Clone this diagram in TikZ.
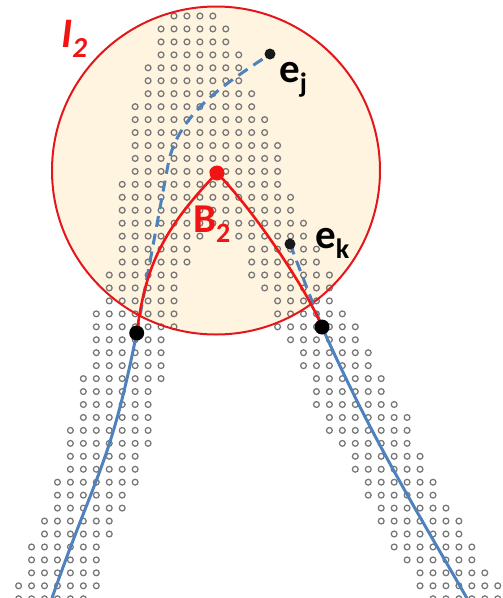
\documentclass[tikz,border=0pt]{standalone}
\usepackage{fontspec}
\setmainfont{Carlito}
\definecolor{cream}{HTML}{FEF4DF}
\definecolor{ringred}{HTML}{E3161C}
\definecolor{curvered}{HTML}{F01414}
\definecolor{lblue}{HTML}{4F81BD}
\definecolor{dotgray}{HTML}{767676}
\begin{document}
\begin{tikzpicture}[x=1pt,y=-1pt,
  gdot/.style={draw=dotgray, line width=1.25pt},
  blueline/.style={draw=lblue, line width=3pt},
  bluedash/.style={blueline, dash pattern=on 11pt off 7pt},
  redcurve/.style={draw=curvered, line width=2.6pt},
  bigdot/.style={circle, fill=black, inner sep=0pt, minimum size=15pt},
  smalldot/.style={circle, fill=black!90, inner sep=0pt, minimum size=11pt},
  reddot/.style={circle, fill=curvered, inner sep=0pt, minimum size=15pt},
  lab/.style={anchor=base west, inner sep=0pt, font=\fontsize{41}{41}\selectfont\bfseries}]
\useasboundingbox (0,0) rectangle (503,598);
% ring fill
\fill[cream] (216,170.5) circle[radius=164];
% dot grid
\foreach \r/\a/\b in {0/0/3, 1/-1/4, 2/-1/4, 3/-1/5, 4/-2/5, 5/-2/5, 6/-2/6, 7/-3/6,
  8/-3/7, 9/-3/7, 10/-3/8, 11/-3/8, 12/-3/8, 13/-4/8, 14/-4/9, 15/-4/9, 16/-4/10,
  17/-4/2, 17/5/10, 18/-4/1, 18/6/11, 19/-4/1, 19/6/11, 20/-5/0, 20/6/12,
  21/-5/0, 21/7/12, 22/-5/0, 22/8/12, 23/-6/0, 23/8/13, 24/-6/0, 24/8/14,
  25/-6/-1, 25/9/14, 26/-6/-1, 26/10/15, 27/-6/-1, 27/10/15, 28/-7/-1, 28/11/16,
  29/-7/-2, 29/11/16, 30/-7/-2, 30/11/17, 31/-7/-2, 31/12/18, 32/-8/-2, 32/12/18,
  33/-8/-2, 33/13/18, 34/-8/-3, 34/14/19, 35/-8/-3, 35/14/19, 36/-9/-3, 36/15/20,
  37/-9/-4, 37/15/20, 38/-9/-4, 38/16/21, 39/-10/-5, 39/16/22, 40/-10/-5, 40/17/22,
  41/-11/-6, 41/17/23, 42/-11/-6, 42/18/23, 43/-11/-6, 43/19/24, 44/-12/-6, 44/19/25,
  45/-12/-7, 45/20/25}{
  \foreach \c in {\a,...,\b}{
    \draw[gdot] ({174+12.95*\c},{16+12.95*\r}) circle[radius=2.9];
  }
}
% ring outline
\draw[ringred, line width=2pt] (216,170.5) circle[radius=164];
% key points
\coordinate (L) at (136.7,333);
\coordinate (R) at (322,327);
\coordinate (B) at (217,173);
\coordinate (EJ) at (270,54);
\coordinate (EK) at (290,244);
\coordinate (M) at (168,165);
\coordinate (LB) at (52,598);
\coordinate (RB) at (468,600);
% blue paths
\draw[blueline] (L) .. controls (110.1,466.1) and (96.6,470.6) .. (LB);
\draw[bluedash] (L) -- (M) .. controls (178.1,110.9) and (230.4,81.1) .. (EJ);
\draw[bluedash] (EK) -- (R);
\draw[blueline] (R) .. controls (371,436) and (408.25,496.5) .. (RB);
% red curves
\draw[redcurve] (L) .. controls (145,273) and (157.5,234.2) .. (B);
\draw[redcurve] (B) .. controls (252.4,208.4) and (307.2,289.8) .. (R);
% dots
\node[bigdot] (Ldot) at (L) {};
\node[bigdot] (Rdot) at (R) {};
\node[reddot] (Bdot) at (B) {};
\node[smalldot] (EJdot) at (EJ) {};
\node[smalldot] (EKdot) at (EK) {};
% labels
\node[lab, text=curvered] (Blab) at (193,232) {B\raisebox{-10pt}{\fontsize{28}{28}\selectfont 2}};
\node[lab] (EJlab) at (279,82) {e\raisebox{-10pt}{\fontsize{28}{28}\selectfont j}};
\node[lab] (EKlab) at (315,248) {e\raisebox{-10pt}{\fontsize{28}{28}\selectfont k}};
\node[lab, text=curvered, font=\fontsize{42}{42}\selectfont\bfseries\itshape] (Ilab) at (61,47) {I\raisebox{-10pt}{\fontsize{29}{29}\selectfont 2}};
\end{tikzpicture}
\end{document}
